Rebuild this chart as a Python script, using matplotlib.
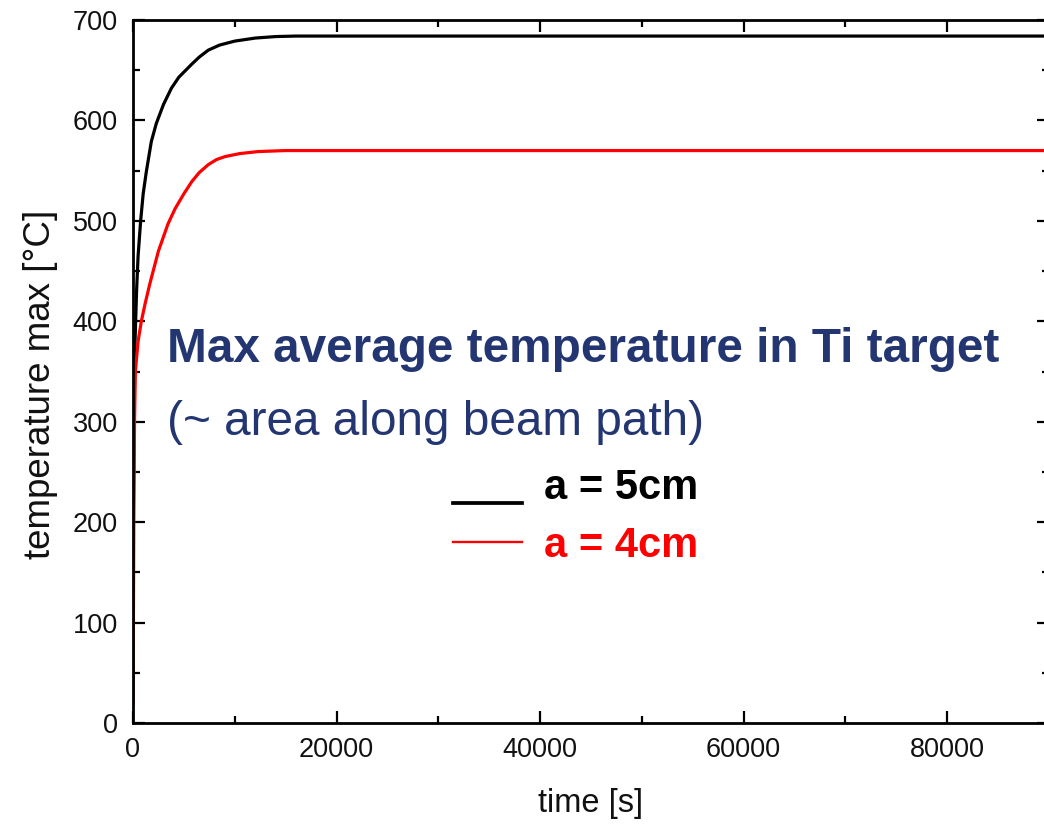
import numpy as np
import matplotlib
matplotlib.use('Agg')
import matplotlib.pyplot as plt
import matplotlib.ticker as ticker

plt.rcParams['font.family'] = ['Liberation Sans', 'DejaVu Sans']

# data (time in s, temperature in degC)
t_5cm = [0, 30, 100, 200, 350, 500, 750, 1000, 1310, 1800, 2290, 3000, 3770,
         4500, 5770, 6500, 7400, 8500, 10000, 12000, 14000, 16000, 20000, 90000]
T_5cm = [20, 200, 300, 380, 430, 465, 500, 527, 549, 579, 597, 616, 632,
         643, 656, 663, 670, 675, 679, 682, 683.5, 684, 684, 684]

t_4cm = [0, 40, 80, 150, 230, 500, 820, 1200, 1670, 2500, 3440, 4130, 5000,
         5770, 6500, 7400, 8200, 9040, 10500, 12300, 15000, 18000, 90000]
T_4cm = [20, 100, 200, 300, 350, 380, 400, 418, 438, 470, 497, 512, 527,
         539, 548, 556, 561, 564, 567, 569, 570, 570, 570]

labels = ['a = 5cm', 'a = 4cm']
colors = ['black', 'red']
navy = '#233671'

fig = plt.figure(figsize=(10.44, 8.25), dpi=100)
ax = fig.add_axes([133/1044, 102/825, 916/1044, 703/825])

l1, = ax.plot(t_5cm, T_5cm, color=colors[0], lw=2.3, label=labels[0])
l2, = ax.plot(t_4cm, T_4cm, color=colors[1], lw=2.3, label=labels[1])

ax.set_xlim(0, 90000)
ax.set_ylim(0, 700)

# ticks inside on all four sides, Origin-like
ax.xaxis.set_major_locator(ticker.MultipleLocator(20000))
ax.xaxis.set_minor_locator(ticker.MultipleLocator(10000))
ax.yaxis.set_major_locator(ticker.MultipleLocator(100))
ax.yaxis.set_minor_locator(ticker.MultipleLocator(50))
ax.tick_params(which='both', direction='in', top=True, right=True,
               width=1.6, colors='black', labelcolor='#111111')
ax.tick_params(which='major', length=8.5, labelsize=19.5)
ax.tick_params(which='minor', length=5)
ax.tick_params(axis='y', pad=11)
ax.tick_params(axis='x', pad=10)
for s in ax.spines.values():
    s.set_linewidth(2)

ax.set_xlabel('time [s]', fontsize=23.5, color='#111111')
ax.set_ylabel('temperature max [°C]', fontsize=26.5, color='#111111')
ax.xaxis.set_label_coords(0.5, -0.093)
ax.yaxis.set_label_coords(-0.082, 0.481)

ax.text(0.037, 0.531, 'Max average temperature in Ti target', transform=ax.transAxes,
        fontsize=34.4, fontweight='bold', color=navy, va='center', ha='left')
ax.text(0.037, 0.427, '(~ area along beam path)', transform=ax.transAxes,
        fontsize=34.4, color=navy, va='center', ha='left')

leg = ax.legend(handles=[l1, l2], loc='upper left', bbox_to_anchor=(0.349, 0.3627),
                frameon=False, borderpad=0, borderaxespad=0,
                prop={'size': 30, 'weight': 'bold'},
                handlelength=1.67, handletextpad=0.52, labelspacing=0.42)
for txt, c in zip(leg.get_texts(), colors):
    txt.set_color(c)
# in the original the black key line sits a bit below its label and is thicker
hl = leg.legend_handles
hl[0].set_ydata(np.asarray(hl[0].get_ydata()) - 13.5)
hl[0].set_linewidth(2.7)
hl[1].set_linewidth(1.7)

fig.savefig('out.png', dpi=100)
